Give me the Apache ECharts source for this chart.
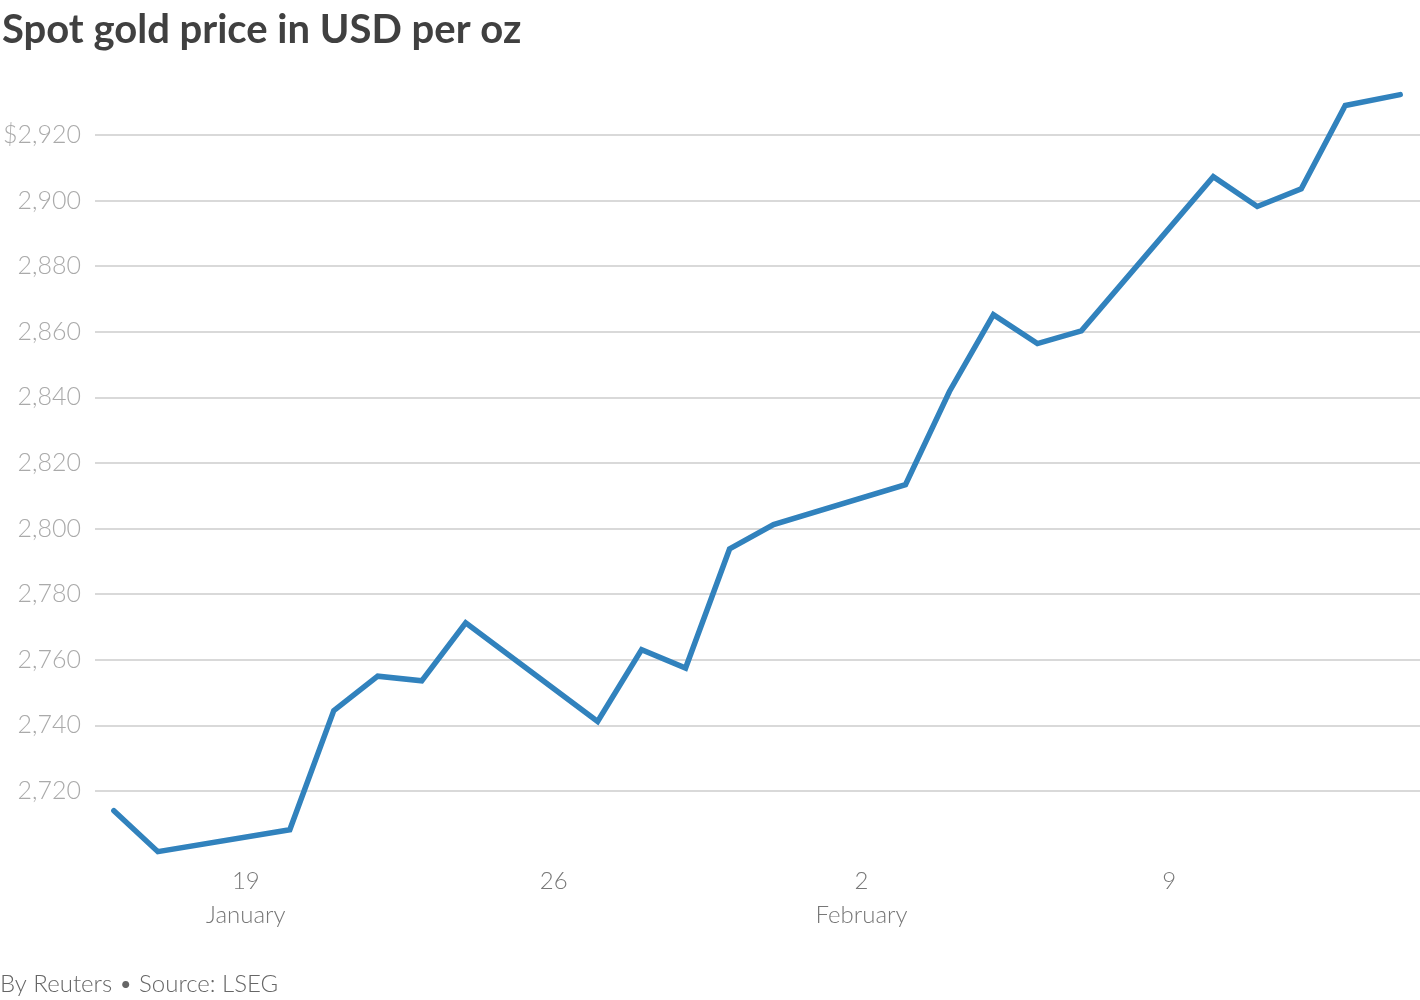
<!DOCTYPE html>
<html>
<head>
<meta charset="utf-8">
<script src="https://cdn.jsdelivr.net/npm/echarts@6/dist/echarts.min.js"></script>
<style>
html,body{margin:0;padding:0;background:#fff;}
#chart{width:1420px;height:1000px;}
</style>
</head>
<body>
<div id="chart"></div>
<script>
// ---- data ----
const dates = [
  '2025-01-16','2025-01-17','2025-01-20','2025-01-21','2025-01-22','2025-01-23','2025-01-24',
  '2025-01-27','2025-01-28','2025-01-29','2025-01-30','2025-01-31',
  '2025-02-03','2025-02-04','2025-02-05','2025-02-06','2025-02-07',
  '2025-02-10','2025-02-11','2025-02-12','2025-02-13','2025-02-14T06'
];
const prices = [
  2714.0, 2701.5, 2708.2, 2744.5, 2755.0, 2753.6, 2771.3,
  2741.2, 2763.1, 2757.5, 2793.8, 2801.2,
  2813.4, 2841.8, 2865.2, 2856.4, 2860.3,
  2907.3, 2898.2, 2903.6, 2929.0, 2932.3
];
const tickDates = ['2025-01-19','2025-01-26','2025-02-02','2025-02-09'];
const tickLabels = ['19\nJanuary','26','2\nFebruary','9'];
const yTicks = [2720,2740,2760,2780,2800,2820,2840,2860,2880,2900,2920];

// ---- helpers ----
function dayNum(s){
  const m = s.match(/(\d+)-(\d+)-(\d+)(?:T(\d+))?/);
  const t = Date.UTC(+m[1], +m[2]-1, +m[3], m[4] ? +m[4] : 0);
  return (t - Date.UTC(2025,0,1)) / 864e5;
}
const seriesData = dates.map((d,i)=>[dayNum(d), prices[i]]);
const tickVals = tickDates.map(dayNum);
const yMax = yTicks[yTicks.length-1];

const chart = echarts.init(document.getElementById('chart'));
const FONT = 'Lato';
const gridColors = [];
for (let v = 2700; v <= 2940; v += 20) gridColors.push(yTicks.indexOf(v) >= 0 ? '#cccccc' : 'rgba(0,0,0,0)');

chart.setOption({
  animation:false,
  backgroundColor:'#fff',
  title:{
    text:'Spot gold price in USD per oz',
    left:-3, top:5,
    textStyle:{fontFamily:FONT, fontWeight:'bold', fontSize:40, color:'#404040'}
  },
  graphic:[{
    type:'text', left:0, top:972,
    style:{text:'By Reuters \u2022 Source: LSEG', fontFamily:FONT, fontSize:24, fontWeight:300, fill:'#666666'}
  }],
  grid:{left:94, right:0, top:69.4, bottom:143.4, containLabel:false},
  xAxis:{
    type:'value',
    min:14.57, max:44.70,
    axisLine:{show:false},
    axisTick:{show:false},
    splitLine:{show:false},
    axisLabel:{
      customValues:tickVals,
      margin:8,
      fontFamily:FONT, fontSize:24, fontWeight:300, color:'#777777', lineHeight:34,
      formatter:function(v){
        const i = tickVals.findIndex(t=>Math.abs(t-v)<1e-6);
        return i>=0 ? tickLabels[i] : '';
      }
    }
  },
  yAxis:{
    type:'value',
    min:2700, max:2940, interval:20,
    axisLine:{show:false},
    axisTick:{show:false},
    splitLine:{show:true, lineStyle:{color:gridColors, width:1.5}},
    axisLabel:{
      showMinLabel:false, showMaxLabel:false,
      margin:14,
      fontFamily:FONT, fontSize:25, fontWeight:300, color:'#aaaaaa',
      formatter:function(v){
        const s = v.toLocaleString('en-US');
        return v === yMax ? '$' + s : s;
      }
    }
  },
  series:[{
    type:'line',
    data:seriesData,
    showSymbol:false,
    symbol:'none',
    lineStyle:{color:'#3182bd', width:5.5, cap:'round', join:'miter'},
    z:5
  }]
});
</script>
</body>
</html>
